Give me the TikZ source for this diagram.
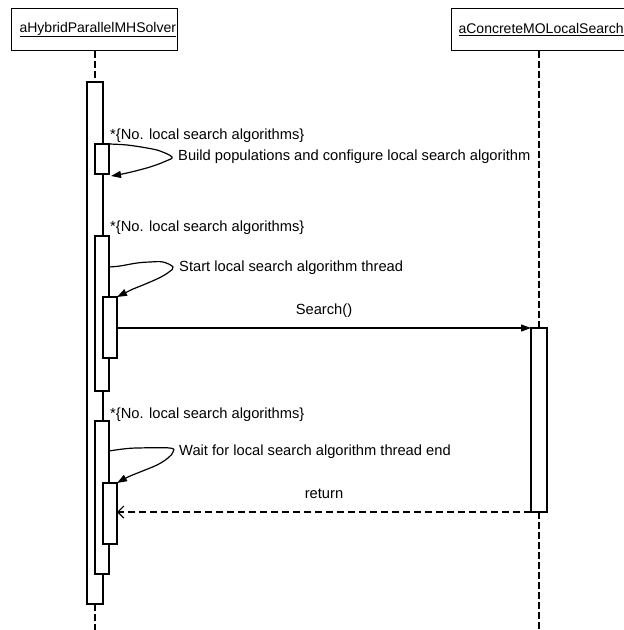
\documentclass[tikz,border=0pt]{standalone}
\usepackage{fontspec}
\setmainfont{Liberation Sans}
\usetikzlibrary{arrows.meta}

\tikzset{
  every node/.style={font=\fontsize{14.7}{17}\selectfont},
  objbox/.style={draw, line width=1.2pt, fill=white, minimum height=42pt, inner sep=0pt,
    font=\fontsize{14}{17}\selectfont},
  actbar/.style={draw, line width=1.2pt, fill=white, inner sep=0pt, outer sep=0pt},
  lifeline/.style={line width=1.2pt, dash pattern=on 7pt off 3pt},
  selfmsg/.style={line width=1.2pt, -{Triangle[length=10pt,width=7pt]}},
  callmsg/.style={line width=1.2pt, -{Triangle[length=10pt,width=7pt]}},
  retmsg/.style={line width=1.2pt, dash pattern=on 7pt off 4pt, -{Straight Barb[length=6pt,width=12pt]}},
  looplabel/.style={anchor=west, inner sep=0pt},
  msglabel/.style={anchor=west, inner sep=0pt}
}

\begin{document}
\begin{tikzpicture}[x=1pt, y=-1pt]
  \clip (0,0) rectangle (624,630);
  \fill[white] (0,0) rectangle (624,630);

  % object boxes
  \node[objbox, anchor=north west, text width=150pt, align=left, inner xsep=8pt] (S1) at (11,8) {\underline{aHybridParallelMHSolver}};
  \node[objbox, anchor=north west, text width=190pt, align=left, inner xsep=7pt] (S2) at (451,8) {\underline{aConcreteMOLocalSearch}};

  % activation bars
  \node[actbar, minimum width=16pt, minimum height=522pt] (A) at (95,343) {};
  \node[actbar, minimum width=14pt, minimum height=30pt] (B1) at (102,159) {};
  \node[actbar, minimum width=14pt, minimum height=155pt] (B2) at (102,313.5) {};
  \node[actbar, minimum width=14pt, minimum height=61pt] (C2) at (110,327.5) {};
  \node[actbar, minimum width=14pt, minimum height=153pt] (B3) at (102,497.5) {};
  \node[actbar, minimum width=14pt, minimum height=61pt] (C3) at (110,513.5) {};
  \node[actbar, minimum width=16pt, minimum height=184pt] (R) at (539,420) {};

  % lifelines
  \coordinate (L1end) at (95,632);
  \coordinate (L2end) at (539,632);
  \draw[lifeline] (A.north |- S1.south) -- (A.north);
  \draw[lifeline] (A.south) -- (L1end);
  \draw[lifeline] (R.north |- S2.south) -- (R.north);
  \draw[lifeline] (R.south) -- (L2end);

  % loop labels
  \node[looplabel] (N1) at (110,136) {*\{No. local search algorithms\}};
  \node[looplabel] (N2) at (110,228) {*\{No. local search algorithms\}};
  \node[looplabel] (N3) at (110,415) {*\{No. local search algorithms\}};

  % self messages
  \draw[selfmsg] plot[smooth, tension=0.6] coordinates {
    (B1.north east) (127,145) (147,148) (160,151) (172,157) (166,161)
    (150,167) (127,173) (111,176)};
  \node[msglabel] (M1) at (178,157) {Build populations and configure local search algorithm};

  \draw[selfmsg] plot[smooth, tension=0.6] coordinates {
    ([yshift=-31pt]B2.north east) (120,266) (137,263) (150,262) (163,262)
    (173,267) (169,272) (159,278) (143,285) (133,289) (C2.north east)};
  \node[msglabel] (M2) at (179,268) {Start local search algorithm thread};

  \draw[selfmsg] plot[smooth, tension=0.6] coordinates {
    ([yshift=-30pt]B3.north east) (123,449) (137,448) (170,448) (173,452)
    (168,458) (157,465) (140,472) (128,477) (C3.north east)};
  \node[msglabel] (M3) at (179,452) {Wait for local search algorithm thread end};

  % call and return
  \draw[callmsg] (C2.east |- R.north) -- node[above=10pt, inner sep=0pt] {Search()} (R.north west);
  \draw[retmsg] (R.south west) -- node[above=13pt, inner sep=0pt] {return} (R.south west -| C3.east);
\end{tikzpicture}
\end{document}
